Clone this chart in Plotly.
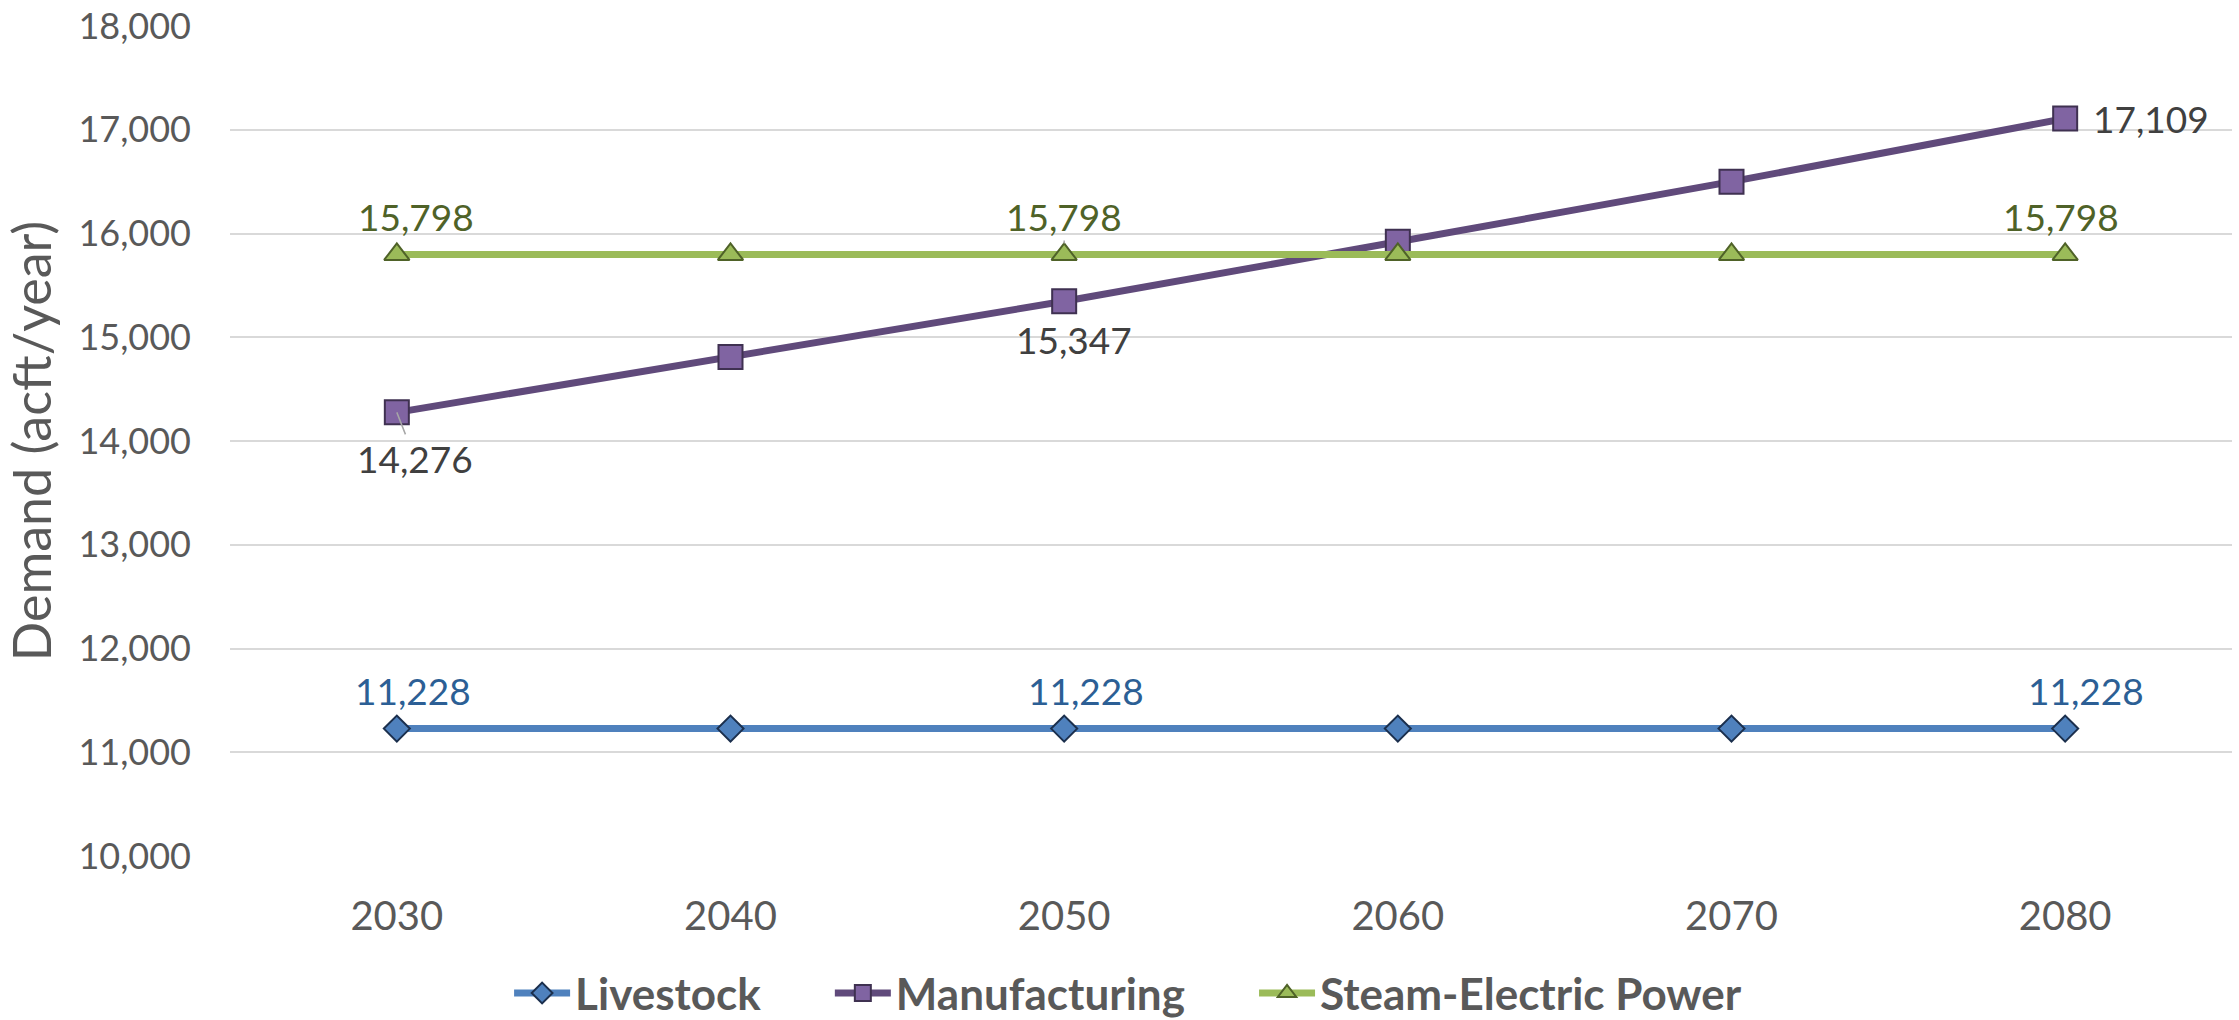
import plotly.graph_objects as go

# ---- data ----
years = ["2030", "2040", "2050", "2060", "2070", "2080"]
livestock = [11228, 11228, 11228, 11228, 11228, 11228]
manufacturing = [14276, 14810, 15347, 15920, 16500, 17109]
steam_electric = [15798, 15798, 15798, 15798, 15798, 15798]
y_ticks = [10000, 11000, 12000, 13000, 14000, 15000, 16000, 17000, 18000]
series_names = ["Livestock", "Manufacturing", "Steam-Electric Power"]

# which points carry a data label (by index)
labelled = [0, 2, 5]

FONT = "Lato"
GREY = "#595959"
PAD = "\u00a0" * 6  # spacing between legend entries

fig = go.Figure()

fig.add_trace(go.Scatter(
    x=years, y=livestock, name=series_names[0] + PAD, mode="lines+markers",
    line=dict(color="#4F81BD", width=7),
    marker=dict(symbol="diamond", size=20, color="#4F81BD",
                line=dict(color="#1B2F4D", width=2)),
))
fig.add_trace(go.Scatter(
    x=years, y=manufacturing, name=series_names[1] + PAD, mode="lines+markers",
    line=dict(color="#604A7B", width=7),
    marker=dict(symbol="square", size=24, color="#8064A2",
                line=dict(color="#3F3151", width=2)),
))
fig.add_trace(go.Scatter(
    x=years, y=steam_electric, name=series_names[2], mode="lines+markers",
    line=dict(color="#9BBB59", width=7),
    marker=dict(symbol="triangle-up", size=22, color="#9BBB59",
                line=dict(color="#4F6228", width=2)),
))

# label placement styles (pixel offsets: right, up), per series and labelled index
label_font = 37
live_off = {0: (16, 38), 2: (22, 38), 5: (21, 38)}
steam_off = {0: (19, 38), 2: (0, 38), 5: (-4, 38)}
manu_off = {0: (18, -46), 2: (10, -38), 5: (86, 0)}


def add_label(i, values, off, color, leader=False, standoff=0):
    dx, dy = off[i]
    common = dict(x=i, y=values[i], xref="x", yref="y", text=f"{values[i]:,}",
                  font=dict(family=FONT, size=label_font, color=color))
    if leader:
        fig.add_annotation(**common, showarrow=True, arrowhead=0, arrowwidth=1.5,
                           arrowcolor="#A6A6A6", ax=dx, ay=-dy, standoff=standoff)
    else:
        fig.add_annotation(**common, showarrow=False, xshift=dx, yshift=dy)


for i in labelled:
    add_label(i, livestock, live_off, "#2C5F95")
for i in labelled:
    add_label(i, steam_electric, steam_off, "#4F6228", leader=(i == 2), standoff=11)
for i in labelled:
    add_label(i, manufacturing, manu_off, "#404040", leader=(i == 0))

fig.update_layout(
    width=2239, height=1020,
    margin=dict(l=230, r=7, t=26, b=164, pad=0, autoexpand=False),
    paper_bgcolor="white", plot_bgcolor="white",
    font=dict(family=FONT, color=GREY),
    showlegend=True,
    legend=dict(orientation="h", x=0.4486, xanchor="center", y=-0.1655, yanchor="middle",
                font=dict(family=FONT, size=44, color=GREY, weight="bold"),
                itemwidth=56, bgcolor="rgba(0,0,0,0)"),
    xaxis=dict(type="category", range=[-0.5, 5.5], showgrid=False, zeroline=False,
               showline=False, ticks="", ticklabelstandoff=33,
               tickfont=dict(family=FONT, size=40, color=GREY)),
    yaxis=dict(range=[10000, 18000], tickvals=y_ticks, tickformat=",d",
               showgrid=True, gridcolor="#D9D9D9", gridwidth=2,
               zeroline=False, showline=False, ticks="", ticklabelstandoff=38,
               tickfont=dict(family=FONT, size=36, color=GREY),
               title=dict(text="Demand (acft/year)", standoff=10,
                          font=dict(family=FONT, size=52, color=GREY))),
)

fig.write_html("out.html", config={"displayModeBar": False},
               post_script="document.body.style.margin='0';document.body.style.overflow='hidden';")
